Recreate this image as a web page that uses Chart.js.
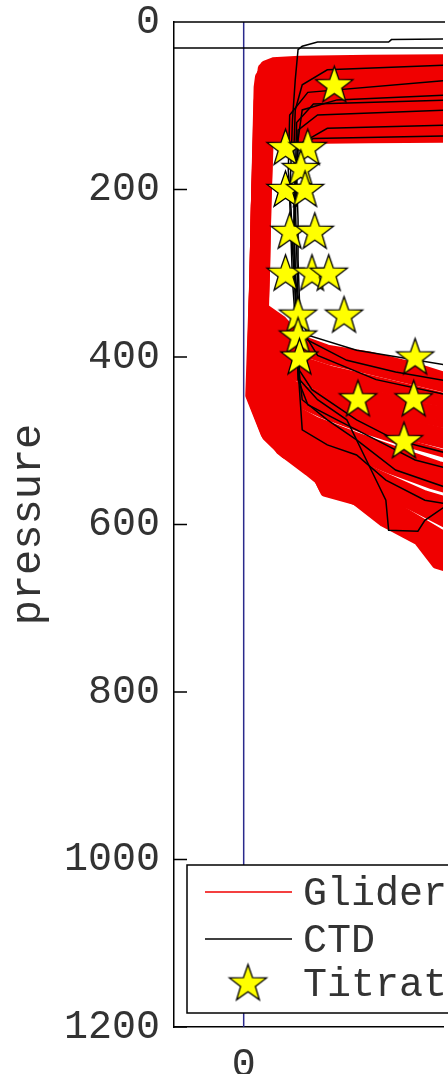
<!DOCTYPE html>
<html lang="en">
<head>
    <meta charset="UTF-8">
    <title>Glider vs CTD pressure profiles</title>
    <script src="https://cdn.jsdelivr.net/npm/chart.js"></script>
    <style>
        html, body { margin: 0; padding: 0; background: #fff; overflow: hidden; }
        .wrap { width: 448px; height: 1074px; position: relative; }
    </style>
</head>
<body>
    <div class="wrap"><canvas id="profileChart"></canvas></div>
    <script>
        // axis ticks
        const yTicks = [0, 200, 400, 600, 800, 1000, 1200];
        const xTicks = [0];
        const zeroLineX = 0;
        const legendLabels = ['Glider', 'CTD', 'Titration'];

        // titration samples (value, pressure)
        const titrationX = [65, 30, 46, 41, 30, 44, 33, 51, 30, 49, 61, 39, 72, 39, 40, 123, 82, 122, 115];
        const titrationP = [75, 150, 150, 175, 200, 200, 250, 250, 300, 300, 300, 350, 350, 375, 400, 400, 450, 450, 500];

        // CTD casts, [value, pressure]
        const ctd = [
            [[151,20],[106,21],[104,24],[53,24],[42,29],[39,33],[37,69],[35,117],[34,165],[33,212],[34,260],[35,308],[37,356],[46,380],[74,404],[109,418],[151,430]],
            [[-60,31],[160,31]],
            [[151,51],[60,57],[42,75],[37,105],[36,153],[37,201],[36,248],[37,296],[39,344],[46,374],[81,392],[151,411]],
            [[151,87],[67,93],[42,105],[39,141],[38,189],[39,236],[39,284],[40,332],[42,368],[53,398],[95,427],[151,447]],
            [[151,69],[46,84],[33,111],[32,177],[34,224],[35,272],[37,320],[39,368],[40,416],[49,439],[81,475],[109,499],[151,517]],
            [[151,105],[53,111],[39,129],[37,212],[39,332],[40,427],[53,451],[74,475],[88,523],[102,571],[104,607],[125,608],[130,595],[151,571]],
            [[151,123],[60,127],[39,147],[36,212],[37,308],[38,392],[42,451],[60,475],[81,499],[109,535],[151,559]],
            [[151,136],[50,139],[39,150],[36,272],[39,427],[46,457],[67,475],[95,499],[123,523],[151,535]],
            [[151,93],[50,98],[38,120],[36,250],[38,390],[42,487],[60,505],[81,517],[102,547],[130,571],[151,577]]
        ];

        // glider profiles, [value, pressure]
        const glider = [
            [[170,43],[90,44],[40,45],[21,47],[15,51],[14,64],[12,220],[11,300],[10,335],[28,356],[40,378],[60,390],[90,398],[120,410],[143,422],[170,432]],
            [[170,45],[90,46],[40,47],[20,49],[14,53],[13,66],[11,220],[10,300],[8,392],[18,425],[33,450],[56,468],[85,486],[115,502],[145,516],[170,526]],
            [[170,47],[90,48],[40,49],[19,51],[13,55],[12,68],[10,220],[9,300],[5,448],[16,495],[29,516],[50,535],[58,562],[80,572],[100,598],[125,620],[138,648],[170,665]],
            [[170,51],[90,52],[40,53],[23,55],[17,59],[16,72],[14,220],[13,300],[12,360],[24,386],[40,406],[65,422],[95,436],[125,449],[170,464]],
            [[170,54],[90,55],[40,56],[18,58],[12,62],[11,75],[9,220],[8,300],[7,394],[17,429],[30,456],[52,476],[80,494],[110,512],[140,529],[170,542]],
            [[170,57],[90,58],[40,59],[17,61],[11,65],[10,78],[8,220],[7,300],[5,424],[12,464],[25,494],[45,519],[62,542],[90,562],[115,584],[140,609],[170,634]],
            [[170,60],[90,61],[40,62],[25,64],[19,68],[18,81],[16,220],[15,300],[14,350],[26,372],[38,392],[62,405],[95,418],[125,430],[150,440],[170,446]],
            [[170,62],[90,63],[40,64],[19,66],[13,70],[12,83],[10,220],[9,300],[7,410],[15,446],[28,474],[50,494],[75,514],[105,535],[135,553],[170,570]],
            [[170,64],[90,65],[40,66],[18,68],[12,72],[11,85],[9,220],[8,300],[7,400],[17,435],[30,462],[52,482],[80,500],[110,518],[140,535],[170,548]],
            [[170,67],[90,68],[40,69],[21,71],[15,75],[14,88],[12,220],[11,300],[8,409],[14,449],[27,479],[48,499],[70,519],[100,542],[130,564],[170,584]],
            [[170,70],[90,71],[40,72],[22,74],[16,78],[15,91],[13,220],[12,300],[10,380],[20,410],[36,433],[60,450],[90,465],[120,480],[170,500]],
            [[170,74],[90,75],[40,76],[17,78],[11,82],[10,95],[8,220],[7,300],[5,444],[17,489],[30,510],[51,529],[60,554],[82,566],[102,590],[127,612],[140,640],[170,658]],
            [[170,77],[90,78],[40,79],[26,81],[20,85],[19,98],[17,220],[16,300],[15,343],[28,364],[40,386],[60,398],[90,406],[120,418],[143,430],[170,440]],
            [[170,82],[90,83],[40,84],[20,86],[14,90],[13,103],[11,220],[10,300],[7,415],[14,455],[27,485],[48,505],[70,525],[100,548],[130,570],[170,590]],
            [[170,85],[90,86],[40,87],[22,89],[16,93],[15,106],[13,220],[12,300],[7,420],[13,462],[26,494],[46,516],[66,537],[95,558],[122,580],[150,604],[170,616]],
            [[170,87],[90,88],[40,89],[24,91],[18,95],[17,108],[15,220],[14,300],[13,368],[24,395],[40,415],[65,431],[95,445],[125,458],[170,473]],
            [[170,91],[90,92],[40,93],[17,95],[11,99],[10,112],[8,220],[7,300],[5,430],[12,470],[25,500],[45,525],[62,548],[90,568],[115,590],[140,615],[170,640]],
            [[170,95],[90,96],[40,97],[19,99],[13,103],[12,116],[10,220],[9,300],[6,436],[12,476],[25,506],[45,531],[62,554],[90,574],[115,596],[140,621],[170,646]],
            [[170,99],[90,100],[40,101],[21,103],[15,107],[14,120],[12,220],[11,300],[9,406],[17,441],[30,468],[52,488],[80,506],[110,524],[140,541],[170,554]],
            [[170,103],[90,104],[40,105],[26,107],[20,111],[19,124],[17,220],[16,300],[15,358],[26,382],[38,402],[62,415],[95,428],[125,440],[150,450],[170,456]],
            [[170,107],[90,108],[40,109],[18,111],[12,115],[11,128],[9,220],[8,300],[6,421],[14,461],[27,491],[48,511],[70,531],[100,554],[130,576],[170,596]],
            [[170,111],[90,112],[40,113],[23,115],[17,119],[16,132],[14,220],[13,300],[11,388],[20,418],[36,441],[60,458],[90,473],[120,488],[170,508]],
            [[170,113],[90,114],[40,115],[21,117],[15,121],[14,134],[12,220],[11,300],[11,372],[22,402],[38,424],[62,442],[92,458],[122,472],[170,490]],
            [[170,116],[90,117],[40,118],[17,120],[11,124],[10,137],[8,220],[7,300],[4,446],[15,492],[28,513],[49,532],[57,558],[79,569],[99,594],[124,616],[137,644],[170,662]],
            [[170,120],[90,121],[40,122],[25,124],[19,128],[18,141],[16,220],[15,300],[13,375],[24,402],[40,422],[65,438],[95,452],[125,465],[170,480]],
            [[170,124],[90,125],[40,126],[19,128],[13,132],[12,145],[10,220],[9,300],[6,440],[13,482],[26,512],[46,537],[63,560],[91,580],[116,602],[140,628],[170,652]],
            [[170,128],[90,129],[40,130],[22,132],[16,136],[15,149],[13,220],[12,300],[9,412],[17,447],[30,474],[52,494],[80,512],[110,530],[140,547],[170,560]],
            [[170,130],[90,131],[40,132],[18,134],[12,138],[11,151],[9,220],[8,300],[5,438],[14,482],[27,508],[48,530],[60,552],[85,568],[108,592],[132,616],[145,638],[170,655]],
            [[170,132],[90,133],[40,134],[18,136],[12,140],[11,153],[9,220],[8,300],[6,427],[14,467],[27,497],[48,517],[70,537],[100,560],[130,582],[170,602]],
            [[170,136],[90,137],[40,138],[24,140],[18,144],[17,157],[15,220],[14,300],[11,395],[20,425],[36,448],[60,465],[90,480],[120,495],[170,515]],
            [[170,139],[90,140],[40,141],[20,143],[14,147],[13,160],[11,220],[10,300],[9,345],[24,366],[38,388],[60,399],[92,410],[122,423],[145,434],[170,442]]
        ];

        const FONT = "'Liberation Mono', 'DejaVu Sans Mono', monospace";
        const TEXT = '#333';
        const GLIDER_RED = '#f00000';

        function makeStar(r) {
            const s = Math.ceil(r * 2 + 4);
            const c = document.createElement('canvas');
            c.width = s; c.height = s;
            const g = c.getContext('2d');
            g.beginPath();
            for (let i = 0; i < 10; i++) {
                const a = -Math.PI / 2 + i * Math.PI / 5;
                const rr = i % 2 ? r * 0.4 : r;
                g.lineTo(s / 2 + rr * Math.cos(a), s / 2 + 1 + rr * Math.sin(a));
            }
            g.closePath();
            g.fillStyle = '#ffff00';
            g.fill();
            g.lineWidth = 1.3;
            g.strokeStyle = '#000';
            g.stroke();
            return c;
        }
        const star = makeStar(19.5);

        const toPts = arr => arr.map(([x, y]) => ({ x, y }));

        const datasets = [];
        datasets.push({
            label: legendLabels[2],
            data: titrationX.map((x, i) => ({ x, y: titrationP[i] })),
            pointStyle: star, showLine: false, order: 0
        });
        ctd.forEach(c => datasets.push({
            label: legendLabels[1], data: toPts(c), showLine: true,
            borderColor: '#000', borderWidth: 1.5, pointRadius: 0, clip: 0, order: 1
        }));
        glider.forEach(g => datasets.push({
            label: legendLabels[0], data: toPts(g), showLine: true,
            borderColor: GLIDER_RED, borderWidth: 8, borderJoinStyle: 'round', borderCapStyle: 'round',
            pointRadius: 0, clip: 0, order: 2
        }));
        datasets.push({
            label: 'zero', data: [{ x: zeroLineX, y: yTicks[0] }, { x: zeroLineX, y: yTicks[yTicks.length - 1] }],
            showLine: true, borderColor: '#2a2a8c', borderWidth: 1.5, pointRadius: 0, clip: 0, order: 3
        });

        // box, inward ticks and the legend inside the axes
        const framePlugin = {
            id: 'frame',
            afterDraw(chart) {
                const { ctx, chartArea: a, scales } = chart;
                ctx.save();
                ctx.strokeStyle = '#000';
                ctx.lineWidth = 1.5;
                ctx.beginPath();
                ctx.moveTo(a.left, a.top); ctx.lineTo(a.right + 2, a.top);
                yTicks.forEach(v => {
                    const py = scales.y.getPixelForValue(v);
                    ctx.moveTo(a.left, py); ctx.lineTo(a.left + 13, py);
                });
                ctx.stroke();

                // legend
                const bx = a.left + 13, by = a.bottom - 162, bh = 148;
                ctx.fillStyle = '#fff';
                ctx.fillRect(bx, by, 400, bh);
                ctx.strokeRect(bx, by, 400, bh);
                ctx.font = '40px ' + FONT;
                ctx.textBaseline = 'alphabetic';
                ctx.fillStyle = TEXT;
                const rows = [27, 74, 118];
                ctx.lineWidth = 1.5;
                ctx.strokeStyle = GLIDER_RED;
                ctx.beginPath(); ctx.moveTo(bx + 18, by + rows[0]); ctx.lineTo(bx + 105, by + rows[0]); ctx.stroke();
                ctx.strokeStyle = '#000';
                ctx.beginPath(); ctx.moveTo(bx + 18, by + rows[1]); ctx.lineTo(bx + 105, by + rows[1]); ctx.stroke();
                ctx.drawImage(star, bx + 61 - star.width / 2, by + rows[2] - star.height / 2);
                legendLabels.forEach((t, i) => ctx.fillText(t, bx + 116, by + rows[i] + 13));
                ctx.restore();
            }
        };

        new Chart(document.getElementById('profileChart'), {
            type: 'scatter',
            data: { datasets },
            options: {
                responsive: true,
                maintainAspectRatio: false,
                animation: false,
                events: [],
                layout: { padding: { top: 22, right: 0, bottom: 0, left: 0 } },
                plugins: { legend: { display: false }, tooltip: { enabled: false } },
                scales: {
                    x: {
                        type: 'linear', position: 'bottom', min: -50, max: 143,
                        afterBuildTicks: s => { s.ticks = xTicks.map(v => ({ value: v })); },
                        afterFit: s => { s.height = 47; s.paddingLeft = 0; s.paddingRight = 0; },
                        grid: { display: false, drawTicks: false },
                        border: { display: true, color: '#000', width: 1.5 },
                        ticks: { color: TEXT, padding: 18, maxRotation: 0, callback: v => String(v),
                                 font: { family: FONT, size: 40, lineHeight: 1 } }
                    },
                    y: {
                        type: 'linear', reverse: true, min: 0, max: 1200,
                        afterBuildTicks: s => { s.ticks = yTicks.map(v => ({ value: v })); },
                        afterFit: s => { s.width = 174; s.paddingTop = 0; s.paddingBottom = 0; },
                        grid: { display: false, drawTicks: false },
                        border: { display: true, color: '#000', width: 1.5 },
                        ticks: { color: TEXT, padding: 14, callback: v => String(v),
                                 font: { family: FONT, size: 40, lineHeight: 1 } },
                        title: { display: true, text: 'pressure', color: TEXT, padding: 4, font: { family: FONT, size: 42 } }
                    }
                }
            },
            plugins: [framePlugin]
        });
    </script>
</body>
</html>
